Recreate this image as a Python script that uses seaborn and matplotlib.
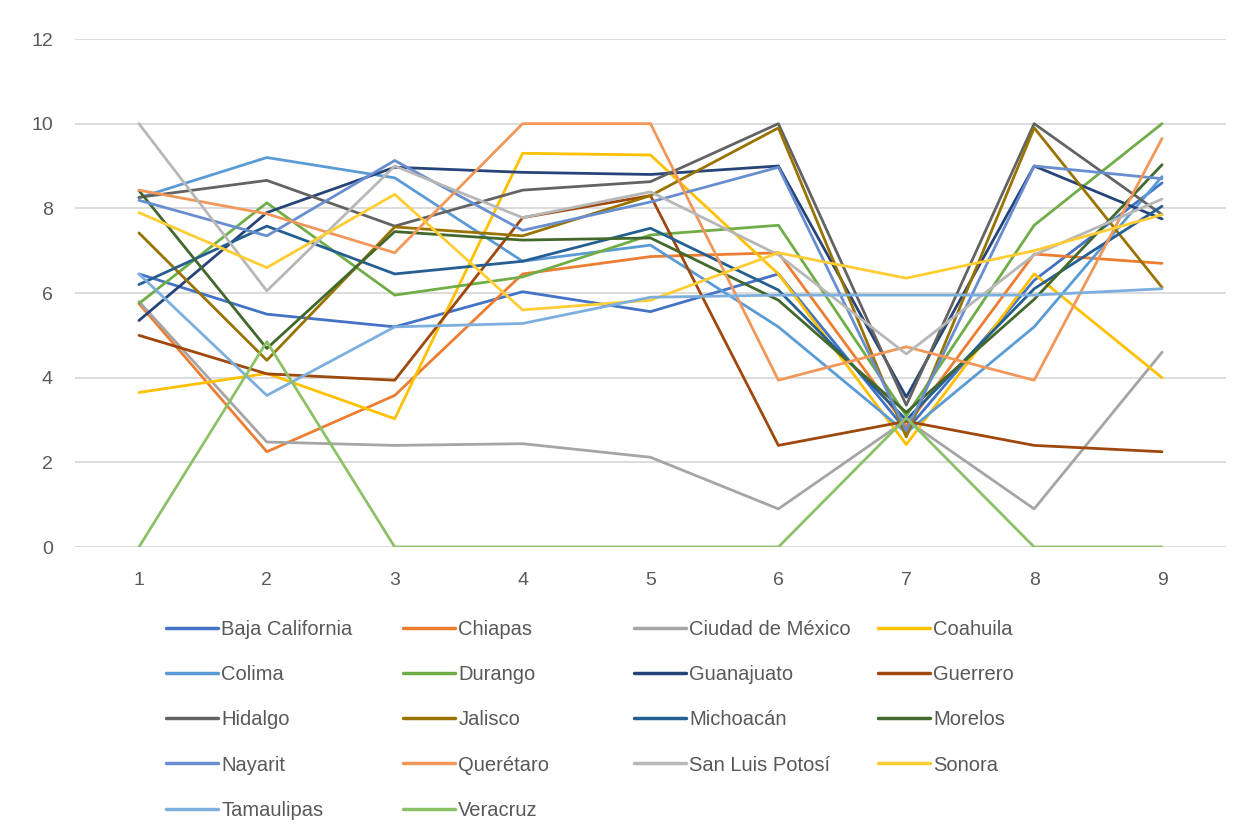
import numpy as np
import pandas as pd
import seaborn as sns
import matplotlib
matplotlib.use("Agg")
import matplotlib.pyplot as plt
from matplotlib.lines import Line2D

periods = [1, 2, 3, 4, 5, 6, 7, 8, 9]

states = ["Baja California", "Chiapas", "Ciudad de México", "Coahuila",
          "Colima", "Durango", "Guanajuato", "Guerrero",
          "Hidalgo", "Jalisco", "Michoacán", "Morelos",
          "Nayarit", "Querétaro", "San Luis Potosí", "Sonora",
          "Tamaulipas", "Veracruz"]

baja_california = [6.45, 5.5, 5.2, 6.03, 5.56, 6.45, 2.75, 6.3, 8.6]
chiapas = [5.75, 2.25, 3.58, 6.45, 6.86, 6.95, 2.85, 6.92, 6.7]
ciudad_de_mexico = [5.8, 2.48, 2.4, 2.44, 2.12, 0.9, 3.0, 0.9, 4.6]
coahuila = [3.65, 4.1, 3.03, 9.3, 9.26, 6.45, 2.42, 6.45, 4.0]
colima = [8.25, 9.2, 8.72, 6.75, 7.13, 5.2, 2.7, 5.2, 8.75]
durango = [5.75, 8.13, 5.95, 6.38, 7.37, 7.6, 3.1, 7.6, 10.0]
guanajuato = [5.35, 7.9, 8.97, 8.85, 8.8, 9.0, 3.54, 9.0, 7.75]
guerrero = [5.0, 4.09, 3.94, 7.78, 8.3, 2.4, 2.97, 2.4, 2.25]
hidalgo = [8.26, 8.66, 7.58, 8.43, 8.63, 10.0, 3.35, 10.0, 7.85]
jalisco = [7.42, 4.41, 7.56, 7.35, 8.3, 9.9, 2.6, 9.9, 6.13]
michoacan = [6.2, 7.58, 6.45, 6.75, 7.53, 6.07, 3.0, 6.1, 8.05]
morelos = [8.42, 4.69, 7.45, 7.25, 7.3, 5.83, 3.18, 5.85, 9.03]
nayarit = [8.19, 7.35, 9.13, 7.48, 8.15, 8.97, 2.75, 9.0, 8.7]
queretaro = [8.43, 7.87, 6.95, 10.0, 10.0, 3.94, 4.73, 3.94, 9.65]
san_luis_potosi = [10.0, 6.05, 9.0, 7.78, 8.39, 6.9, 4.56, 6.9, 8.22]
sonora = [7.9, 6.6, 8.33, 5.6, 5.83, 6.95, 6.35, 7.0, 7.85]
tamaulipas = [6.45, 3.58, 5.2, 5.28, 5.9, 5.95, 5.95, 5.95, 6.1]
veracruz = [0.0, 4.85, 0.0, 0.0, 0.0, 0.0, 3.05, 0.0, 0.0]

series = [baja_california, chiapas, ciudad_de_mexico, coahuila, colima, durango,
          guanajuato, guerrero, hidalgo, jalisco, michoacan, morelos,
          nayarit, queretaro, san_luis_potosi, sonora, tamaulipas, veracruz]

colors = ["#4472C4", "#ED7D31", "#A5A5A5", "#FFC000", "#5B9BD5", "#70AD47",
          "#264478", "#9E480E", "#636363", "#997300", "#255E91", "#43682B",
          "#698ED0", "#F1975A", "#B7B7B7", "#FFCD33", "#7CAFDD", "#8CC168"]

y_ticks = [0, 2, 4, 6, 8, 10, 12]

rows = []
for name, vals in zip(states, series):
    for p, v in zip(periods, vals):
        rows.append({"periodo": p, "valor": v, "estado": name})
df = pd.DataFrame(rows)

sns.set_theme(style="white")
font_list = ["Liberation Sans", "DejaVu Sans"]
plt.rcParams["font.family"] = font_list

fig = plt.figure(figsize=(12.44, 8.36), dpi=100)
ax = fig.add_axes([75 / 1244, 1 - 547 / 836, (1226 - 75) / 1244, (547 - 39) / 836])

palette = dict(zip(states, colors))
sns.lineplot(data=df, x="periodo", y="valor", hue="estado", hue_order=states,
             palette=palette, linewidth=2.0, legend=False, ax=ax, sort=False)

ax.set_xlim(0.5, 9.5)
ax.set_ylim(0, 12)
ax.set_yticks(y_ticks)
ax.set_xticks(periods)
ax.set_xticklabels([str(p) for p in periods])
ax.yaxis.grid(True, color="#D9D9D9", linewidth=1.3)
ax.xaxis.grid(False)
ax.set_axisbelow(True)
for s in ax.spines.values():
    s.set_visible(False)
ax.tick_params(axis="both", length=0, labelsize=14, labelcolor="#595959")
ax.tick_params(axis="y", pad=16)
ax.tick_params(axis="x", pad=18)
ax.set_xlabel("")
ax.set_ylabel("")

# legend: 4 columns, row-major order like the original
col_x = [166 / 1244, 403 / 1244, 634 / 1244, 878 / 1244]
for c in range(4):
    idx = list(range(c, len(states), 4))
    handles = [Line2D([0], [0], color=colors[i], lw=2.5) for i in idx]
    labels = [states[i] for i in idx]
    leg = fig.legend(handles, labels, loc="upper left",
                     bbox_to_anchor=(col_x[c], 1 - 620 / 836),
                     frameon=False, fontsize=14.5, handlelength=2.6,
                     handletextpad=0.15, labelspacing=1.3,
                     borderaxespad=0, borderpad=0)
    for t in leg.get_texts():
        t.set_color("#595959")

fig.savefig("out.png", dpi=100, facecolor="white")
